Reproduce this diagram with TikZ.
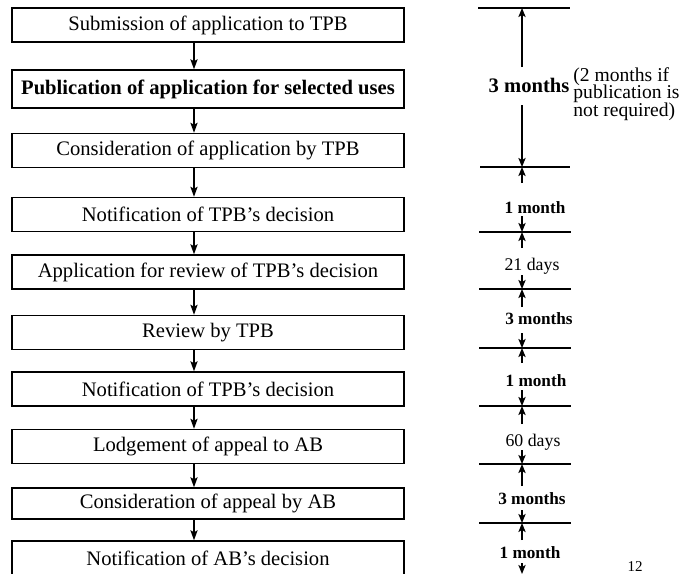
\documentclass[tikz,border=0pt]{standalone}
\usepackage{fontspec}
\setmainfont{Liberation Serif}
\usetikzlibrary{arrows.meta}
\newcommand\tightlines{\lineskiplimit=-20pt\relax}

\begin{document}
\begin{tikzpicture}[x=0.5pt, y=-0.5pt,
  box/.style={draw, line width=0.75pt, minimum width=196pt, minimum height=17pt,
    inner sep=0pt, font=\fontsize{10.3}{12}\selectfont},
  flow/.style={line width=0.6pt, -{Stealth[length=5pt,width=3.6pt,inset=1pt]}},
  tickline/.style={line width=0.9pt},
  tarr/.style={line width=0.8pt, -{Stealth[length=4.5pt,width=3.6pt,inset=1pt]}},
  lab/.style={inner sep=0pt, font=\fontsize{8.6}{10}\selectfont\bfseries},
  labn/.style={inner sep=0pt, font=\fontsize{8.9}{10}\selectfont}]

\clip (0,0) rectangle (696,573);

% Steps of the procedure
\node[box] (b1) at (208,25) {Submission of application to TPB};
\node[box, minimum height=19pt, font=\fontsize{10.3}{12}\selectfont\bfseries] (b2) at (208,89) {Publication of application for selected uses};
\node[box] (b3) at (208,150.5) {Consideration of application by TPB};
\node[box] (b4) at (208,214.5) {Notification of TPB’s decision};
\node[box] (b5) at (208,272) {Application for review of TPB’s decision};
\node[box] (b6) at (208,332.5) {Review by TPB};
\node[box] (b7) at (208,389) {Notification of TPB’s decision};
\node[box] (b8) at (208,446.5) {Lodgement of appeal to AB};
\node[box, minimum height=15.5pt] (b9) at (208,503.5) {Consideration of appeal by AB};
\node[box] (b10) at (208,558) {Notification of AB’s decision};

\begin{scope}[flow]
% Downward chain of steps
\draw ([xshift=-7pt]b1.south) -- ([xshift=-7pt]b2.north);
\draw ([xshift=-7pt]b2.south) -- ([xshift=-7pt]b3.north);
\draw ([xshift=-7pt]b3.south) -- ([xshift=-7pt]b4.north);
\draw ([xshift=-7pt]b4.south) -- ([xshift=-7pt]b5.north);
\draw ([xshift=-7pt]b5.south) -- ([xshift=-7pt]b6.north);
\draw ([xshift=-7pt]b6.south) -- ([xshift=-7pt]b7.north);
\draw ([xshift=-7pt]b7.south) -- ([xshift=-7pt]b8.north);
\draw ([xshift=-7pt]b8.south) -- ([xshift=-7pt]b9.north);
\draw ([xshift=-7pt]b9.south) -- ([xshift=-7pt]b10.north);
\end{scope}

% Time scale ticks
\coordinate (tk1) at (522,8);
\coordinate (tk2) at (522,167);
\coordinate (tk3) at (522,232);
\coordinate (tk4) at (522,289);
\coordinate (tk5) at (522,348);
\coordinate (tk6) at (522,406);
\coordinate (tk7) at (522,464);
\coordinate (tk8) at (522,523);
\coordinate (tk9) at (522,574);

\begin{scope}[tickline]
\draw ([xshift=-22pt]tk1) -- ([xshift=24pt]tk1);
\draw ([xshift=-21pt]tk2) -- ([xshift=24pt]tk2);
\draw ([xshift=-21.5pt]tk3) -- ([xshift=24.5pt]tk3);
\draw ([xshift=-21.5pt]tk4) -- ([xshift=24.5pt]tk4);
\draw ([xshift=-21.5pt]tk5) -- ([xshift=24.5pt]tk5);
\draw ([xshift=-21.5pt]tk6) -- ([xshift=24.5pt]tk6);
\draw ([xshift=-21.5pt]tk7) -- ([xshift=24.5pt]tk7);
\draw ([xshift=-21.5pt]tk8) -- ([xshift=24.5pt]tk8);
\end{scope}

\begin{scope}[tarr]
% Arrows into each tick, from above and below
\draw ([yshift=-29.5pt]tk1) -- (tk1);
\draw ([yshift=31pt]tk2) -- (tk2);
\draw ([yshift=-8pt]tk2) -- (tk2);
\draw ([yshift=8pt]tk3) -- (tk3);
\draw ([yshift=-8pt]tk3) -- (tk3);
\draw ([yshift=7pt]tk4) -- (tk4);
\draw ([yshift=-9pt]tk4) -- (tk4);
\draw ([yshift=7.5pt]tk5) -- (tk5);
\draw ([yshift=-7.5pt]tk5) -- (tk5);
\draw ([yshift=8pt]tk6) -- (tk6);
\draw ([yshift=-9pt]tk6) -- (tk6);
\draw ([yshift=7pt]tk7) -- (tk7);
\draw ([yshift=-11pt]tk7) -- (tk7);
\draw ([yshift=6.5pt]tk8) -- (tk8);
\draw ([yshift=-8.5pt]tk8) -- (tk8);
\draw ([yshift=5.5pt]tk9) -- (tk9);
\end{scope}

% Durations
\node[lab, font=\fontsize{10.3}{12}\selectfont\bfseries] (d1) at (529,85) {3 months};
\node[lab] (d2) at (535,208) {1 month};
\node[labn] (d3) at (532,266) {21 days};
\node[lab] (d4) at (539,319) {3 months};
\node[lab] (d5) at (536,381) {1 month};
\node[labn] (d6) at (533,442) {60 days};
\node[lab] (d7) at (532,499) {3 months};
\node[lab] (d8) at (530,553) {1 month};

% Remark and page number
\node[anchor=west, align=left, inner sep=0pt,
  font=\rmfamily\fontsize{9.8}{8.7}\selectfont\tightlines] (note) at (573,94)
  {(2 months if\\publication is\\not required)};
\node[inner sep=0pt, font=\fontsize{7.5}{9}\selectfont] (pg) at (635,567) {12};

\end{tikzpicture}
\end{document}
